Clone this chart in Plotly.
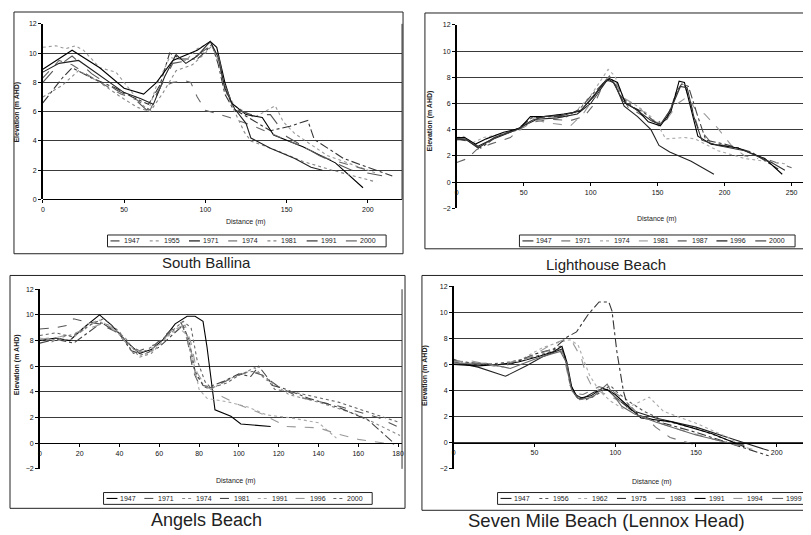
import plotly.graph_objects as go

W, H = 811, 535
OFF = 8  # default page margin of the html body
FW, FH = W - OFF, H - OFF
FONT = "Liberation Sans, Arial, sans-serif"

# ---------------- DATA ----------------
# South Ballina
sb_years = ["1947", "1955", "1971", "1974", "1981", "1991", "2000"]
sb_dist = [
    [0, 12, 18, 30, 45, 55, 65, 72, 78, 85, 95, 100, 104, 108, 112, 117, 128, 140, 152, 163, 167, 185, 215],
    [0, 8, 14, 20, 25, 35, 45, 55, 60, 65, 70, 78, 88, 95, 103, 108, 112, 118, 130, 143, 148, 155, 175, 205],
    [0, 18, 35, 50, 62, 70, 80, 95, 103, 107, 112, 116, 125, 135, 142, 160, 180, 197],
    [0, 10, 18, 32, 48, 58, 66, 72, 80, 88, 91, 95, 100, 115, 130, 145, 160, 175, 200],
    [0, 12, 22, 35, 48, 58, 66, 74, 82, 92, 100, 104, 108, 112, 118, 124, 128, 145, 160, 178, 205],
    [0, 10, 22, 35, 50, 60, 68, 75, 82, 88, 95, 103, 108, 112, 118, 125, 128, 140, 155, 165, 172],
    [0, 8, 18, 30, 45, 57, 64, 72, 80, 90, 97, 103, 108, 112, 118, 128, 140, 150, 170, 190, 210],
]
sb_elev = [
    [6.6, 8.3, 9.0, 8.3, 7.6, 7.0, 6.5, 7.8, 10.0, 9.6, 9.6, 10.1, 10.6, 9.2, 7.2, 6.2, 5.5, 4.7, 5.0, 5.4, 4.1, 2.8, 1.6],
    [10.4, 10.5, 10.3, 10.5, 10.2, 9.0, 8.7, 7.3, 6.6, 6.1, 7.8, 9.7, 9.5, 10.3, 10.7, 9.5, 7.5, 6.4, 5.6, 6.4, 5.3, 4.5, 3.0, 1.8],
    [8.9, 10.2, 9.0, 7.6, 7.2, 8.0, 9.5, 10.2, 10.8, 10.4, 8.0, 6.6, 5.8, 5.6, 4.4, 3.6, 2.5, 0.8],
    [8.3, 9.5, 9.2, 8.2, 7.2, 6.8, 6.1, 7.6, 8.0, 8.1, 8.0, 7.0, 6.1, 5.6, 5.0, 4.3, 3.6, 2.8, 2.0],
    [7.0, 7.8, 8.8, 8.0, 7.0, 6.3, 6.0, 7.3, 8.8, 9.2, 10.0, 10.5, 9.5, 7.5, 6.0, 4.6, 4.0, 3.3, 2.6, 2.0, 1.2],
    [8.7, 9.3, 9.5, 8.5, 7.3, 6.9, 6.5, 8.4, 9.9, 9.3, 9.8, 10.8, 9.7, 7.6, 6.2, 5.2, 4.2, 3.5, 2.8, 2.2, 2.0],
    [8.0, 9.0, 9.8, 8.6, 7.5, 6.8, 6.1, 7.6, 9.3, 9.5, 10.0, 10.5, 9.8, 7.8, 6.2, 5.8, 5.8, 4.3, 3.0, 2.0, 1.6],
]

# Lighthouse Beach
lb_years = ["1947", "1971", "1974", "1981", "1987", "1996", "2000"]
lb_dist = [
    [0, 6, 15, 25, 40, 50, 60, 75, 90, 100, 108, 113, 118, 125, 135, 145, 151, 159, 175, 192],
    [0, 8, 15, 25, 40, 48, 58, 70, 85, 95, 103, 110, 114, 120, 128, 140, 150, 158, 165, 170, 174, 180, 190, 210, 230, 250],
    [0, 5, 12, 20, 35, 48, 58, 72, 88, 100, 108, 113, 118, 125, 135, 145, 150, 156, 170, 178, 195, 215, 245],
    [0, 8, 18, 30, 45, 55, 70, 85, 95, 105, 112, 117, 125, 135, 147, 155, 165, 172, 178, 185, 195, 205, 215, 225],
    [0, 10, 18, 30, 46, 56, 68, 82, 92, 103, 111, 116, 123, 132, 140, 150, 157, 164, 168, 173, 180, 186, 200, 220, 240],
    [0, 6, 14, 22, 35, 47, 55, 65, 80, 92, 102, 110, 114, 120, 126, 135, 143, 152, 160, 166, 170, 175, 180, 190, 210, 230, 243],
    [0, 8, 16, 28, 45, 56, 65, 80, 93, 104, 112, 117, 124, 133, 145, 152, 160, 167, 172, 177, 183, 195, 215, 235, 245],
]
lb_elev = [
    [3.3, 3.3, 2.7, 3.2, 3.8, 4.3, 4.8, 4.9, 5.2, 6.0, 7.2, 7.9, 7.5, 5.8, 5.0, 4.0, 2.8, 2.3, 1.6, 0.6],
    [1.5, 1.8, 2.5, 2.9, 3.4, 4.1, 4.6, 4.8, 4.7, 5.0, 6.0, 7.6, 8.1, 7.3, 5.7, 5.0, 4.5, 5.2, 7.0, 7.4, 6.2, 4.2, 3.0, 2.6, 1.8, 1.1],
    [3.4, 3.5, 3.0, 3.4, 3.7, 4.0, 4.9, 5.1, 5.3, 6.6, 7.8, 8.6, 8.1, 6.3, 5.8, 5.0, 4.4, 3.3, 3.4, 3.3, 2.4, 1.8, 1.4],
    [3.2, 3.3, 2.6, 3.5, 4.0, 4.8, 4.5, 4.3, 5.3, 6.8, 7.9, 8.0, 6.4, 5.8, 4.6, 4.5, 6.0, 6.5, 5.6, 5.2, 4.1, 2.8, 2.0, 1.8],
    [3.3, 3.1, 2.6, 3.5, 4.1, 4.9, 5.0, 5.0, 5.6, 6.9, 7.7, 7.8, 6.5, 5.7, 5.3, 4.4, 4.8, 6.9, 7.5, 7.3, 5.0, 3.2, 2.9, 2.3, 1.0],
    [3.4, 3.4, 2.9, 3.3, 3.8, 4.1, 5.0, 5.0, 5.2, 5.4, 6.5, 7.6, 7.9, 7.6, 6.0, 5.5, 4.6, 4.3, 5.4, 7.7, 7.6, 5.5, 3.5, 2.9, 2.6, 1.8, 0.6],
    [3.3, 3.2, 2.6, 3.4, 4.0, 4.7, 5.0, 5.1, 5.5, 6.8, 7.8, 7.6, 6.2, 5.6, 4.7, 4.4, 5.6, 7.3, 7.2, 5.0, 3.2, 2.8, 2.4, 1.5, 0.9],
]

# Angels Beach
ab_years = ["1947", "1971", "1974", "1981", "1991", "1996", "2000"]
ab_dist = [
    [0, 8, 15, 22, 30, 36, 43, 50, 56, 62, 68, 74, 78, 82, 84, 86, 88, 96, 101, 116],
    [0, 8, 14, 17, 22, 30, 38, 45, 50, 58, 65, 71, 74, 77, 80, 84, 88, 98, 106, 112, 120, 130, 150, 170, 181],
    [0, 6, 12, 20, 28, 35, 43, 50, 56, 62, 68, 72, 75, 78, 82, 86, 95, 103, 108, 113, 118, 125, 140, 160, 181],
    [0, 8, 17, 24, 31, 40, 46, 52, 60, 67, 72, 75, 78, 82, 85, 92, 100, 106, 110, 114, 117, 122, 135, 150, 165, 178],
    [0, 8, 16, 24, 30, 38, 44, 51, 58, 64, 70, 74, 77, 80, 84, 95, 105, 114, 125, 140, 149],
    [0, 10, 18, 26, 33, 40, 47, 53, 60, 67, 73, 76, 79, 83, 87, 92, 100, 110, 124, 140, 150, 160, 178],
    [0, 8, 16, 25, 32, 40, 47, 53, 60, 66, 72, 76, 79, 83, 86, 94, 102, 108, 114, 118, 130, 150, 170, 181],
]
ab_elev = [
    [8.0, 8.2, 8.0, 9.0, 10.0, 9.2, 8.0, 7.0, 7.3, 8.1, 9.3, 9.9, 9.9, 9.5, 7.5, 4.8, 2.6, 2.1, 1.5, 1.3],
    [8.9, 9.0, 9.2, 9.7, 9.5, 9.3, 8.7, 7.6, 7.2, 7.7, 8.7, 9.4, 8.2, 5.6, 4.6, 4.3, 4.4, 5.2, 5.6, 5.3, 4.4, 3.6, 2.9, 2.0, 1.2],
    [8.1, 7.9, 8.3, 8.6, 9.5, 9.2, 8.2, 6.7, 7.0, 8.0, 8.9, 9.1, 7.5, 5.4, 4.6, 4.2, 5.0, 5.5, 5.9, 5.0, 4.6, 3.8, 3.2, 2.2, 0.6],
    [7.8, 8.1, 7.8, 8.6, 9.4, 8.5, 7.2, 6.9, 7.5, 8.5, 9.2, 8.0, 5.6, 4.5, 4.4, 4.8, 5.4, 5.2, 6.0, 5.2, 4.5, 4.3, 3.5, 2.8, 1.8, 0.0],
    [8.2, 8.0, 8.1, 9.3, 9.6, 8.8, 7.8, 6.8, 7.3, 8.3, 9.0, 8.4, 6.5, 4.2, 3.5, 3.2, 2.8, 2.2, 2.0, 1.6, 0.4],
    [8.1, 8.3, 8.6, 9.0, 9.4, 8.4, 7.3, 7.1, 7.7, 8.9, 9.2, 7.8, 5.5, 4.5, 4.1, 3.6, 3.0, 2.4, 1.3, 1.2, 0.7, 0.3, -0.1],
    [8.4, 8.6, 8.3, 9.2, 9.7, 8.7, 7.0, 7.2, 7.9, 8.7, 9.5, 9.0, 6.5, 4.8, 4.3, 4.7, 5.5, 5.6, 5.1, 4.2, 3.9, 3.2, 2.2, 1.6],
]

# Seven Mile Beach (Lennox Head)
sm_years = ["1947", "1956", "1962", "1975", "1983", "1991", "1994", "1999"]
sm_dist = [
    [0, 15, 32, 45, 55, 63, 67, 70, 72, 75, 80, 87, 95, 100, 110, 125, 150, 175, 195],
    [0, 10, 20, 35, 50, 60, 66, 69, 72, 76, 82, 90, 97, 100, 108, 118, 130, 150, 170, 180],
    [0, 15, 30, 42, 55, 65, 72, 77, 80, 84, 90, 97, 105, 113, 121, 130, 150, 170, 178],
    [0, 20, 35, 50, 62, 70, 76, 83, 90, 96, 98, 101, 105, 107, 115, 130, 150, 170, 195],
    [0, 12, 25, 40, 55, 64, 68, 71, 74, 80, 90, 98, 106, 112, 120, 125, 134, 148],
    [0, 15, 28, 40, 52, 62, 67, 70, 73, 77, 85, 92, 96, 100, 108, 116, 135, 160, 180],
    [0, 10, 25, 45, 60, 68, 74, 79, 82, 86, 96, 108, 116, 140, 160, 185],
    [0, 20, 35, 50, 60, 66, 70, 73, 78, 86, 95, 98, 104, 112, 125, 150, 170, 180],
]
sm_elev = [
    [6.2, 5.8, 5.1, 5.9, 6.6, 7.0, 7.2, 6.0, 4.6, 3.7, 3.4, 3.9, 4.1, 3.5, 2.5, 1.9, 1.2, 0.2, -0.6],
    [6.4, 6.0, 6.0, 6.2, 6.6, 7.0, 7.4, 6.6, 4.4, 3.5, 3.3, 3.8, 4.4, 4.0, 3.2, 2.4, 1.7, 1.1, 0.2, -0.2],
    [6.1, 6.1, 5.8, 6.4, 7.3, 7.7, 7.9, 7.5, 6.5, 5.2, 4.0, 3.2, 2.6, 3.0, 3.5, 2.4, 1.5, 0.4, -0.2],
    [6.3, 6.0, 6.0, 6.8, 7.2, 8.1, 8.5, 9.8, 10.8, 10.8, 10.1, 7.0, 4.0, 3.1, 2.1, 1.5, 0.8, 0.0, -1.0],
    [6.3, 6.1, 5.9, 6.3, 6.9, 7.3, 6.8, 5.0, 3.8, 3.7, 4.3, 4.0, 3.3, 2.2, 1.8, 1.2, 0.4, -0.1],
    [6.0, 5.9, 6.0, 6.2, 6.6, 7.0, 7.4, 6.2, 4.3, 3.4, 3.6, 4.2, 4.0, 3.7, 2.8, 1.9, 1.6, 0.7, -0.3],
    [6.2, 6.3, 5.9, 6.4, 7.5, 7.9, 7.6, 6.5, 5.2, 4.2, 3.6, 2.9, 2.0, 1.0, 0.3, -0.5],
    [6.1, 6.1, 5.7, 6.4, 6.8, 7.0, 6.1, 4.0, 3.3, 3.5, 4.5, 3.8, 2.8, 2.2, 1.6, 0.6, 0.0, -0.2],
]

# ---------------- STYLES / LAYOUT ----------------
sb_styles = [("#333333", "dashdot"), ("#9a9a9a", "dot"), ("#000000", "solid"), ("#666666", "dash"),
             ("#888888", "dot"), ("#222222", "solid"), ("#555555", "longdash")]
lb_styles = [("#222222", "solid"), ("#666666", "dash"), ("#aaaaaa", "dot"), ("#999999", "dash"),
             ("#444444", "dashdot"), ("#000000", "solid"), ("#333333", "solid")]
ab_styles = [("#000000", "solid"), ("#555555", "dash"), ("#888888", "dot"), ("#444444", "dashdot"),
             ("#aaaaaa", "dot"), ("#999999", "dash"), ("#666666", "dot")]
sm_styles = [("#222222", "solid"), ("#555555", "dot"), ("#aaaaaa", "dot"), ("#333333", "dashdot"),
             ("#777777", "dash"), ("#000000", "solid"), ("#999999", "dash"), ("#666666", "solid")]


def px(x):
    return min(max((x - OFF) / FW, 0.0), 1.0)


def py(y):
    return min(max(1 - (y - OFF) / FH, 0.0), 1.0)


panels = [
    dict(dist=sb_dist, elev=sb_elev, years=sb_years, styles=sb_styles,
         xdom=(41, 402), ypx=(198, 20), xr=[0, 221], yr=[0, 12], dtick=50,
         box=(12, 5, 403, 253), leg=(106, 386, 240), title="South Ballina", tpos=(205, 262), tsize=15,
         xt=(245, 221), yt=(15, 109), rborder=True),
    dict(dist=lb_dist, elev=lb_elev, years=lb_years, styles=lb_styles,
         xdom=(457, 811), ypx=(207, 21), xr=[0, 263], yr=[-2, 12], dtick=50,
         box=(425, 9, 812, 248), leg=(520, 797, 240), title="Lighthouse Beach", tpos=(607, 264), tsize=15,
         xt=(658, 218), yt=(430, 118), rborder=False),
    dict(dist=ab_dist, elev=ab_elev, years=ab_years, styles=ab_styles,
         xdom=(38, 402), ypx=(471, 289), xr=[0, 182], yr=[-2, 12], dtick=20,
         box=(7, 275, 405, 511), leg=(102, 372, 501), title="Angels Beach", tpos=(205, 523), tsize=18,
         xt=(235, 483), yt=(15, 365), rborder=True),
    dict(dist=sm_dist, elev=sm_elev, years=sm_years, styles=sm_styles,
         xdom=(454, 811), ypx=(471, 286), xr=[0, 220], yr=[-2, 12], dtick=50,
         box=(422, 275, 812, 513), leg=(498, 832, 501), title="Seven Mile Beach (Lennox Head)", tpos=(607, 523),
         tsize=18.5, xt=(653, 484), yt=(425, 376), rborder=False),
]

fig = go.Figure()
shapes = []
annotations = []
layout_axes = {}

for k, p in enumerate(panels, start=1):
    xa = "x" if k == 1 else f"x{k}"
    ya = "y" if k == 1 else f"y{k}"
    for xs, ys, name, (col, dash) in zip(p["dist"], p["elev"], p["years"], p["styles"]):
        fig.add_trace(go.Scatter(x=xs, y=ys, mode="lines", name=name, xaxis=xa, yaxis=ya,
                                 showlegend=False,
                                 line=dict(color=col, dash=dash, width=1.1)))
    ybot, ytop = py(p["ypx"][0]), py(p["ypx"][1])
    zero_pos = ybot + (0 - p["yr"][0]) / (p["yr"][1] - p["yr"][0]) * (ytop - ybot)
    xkey = "xaxis" if k == 1 else f"xaxis{k}"
    ykey = "yaxis" if k == 1 else f"yaxis{k}"
    layout_axes[xkey] = dict(domain=[px(p["xdom"][0]), px(p["xdom"][1])], range=p["xr"],
                             anchor="free", position=zero_pos, showline=True, linecolor="#000",
                             linewidth=1, ticks="outside", ticklen=3, tickcolor="#000",
                             tick0=0, dtick=p["dtick"], showgrid=False, zeroline=False,
                             tickfont=dict(size=7, color="#111", family=FONT))
    layout_axes[ykey] = dict(domain=[ybot, ytop], range=p["yr"], anchor=xa,
                             showline=True, linecolor="#000", linewidth=1.5,
                             ticks="outside", ticklen=3, tickcolor="#000",
                             tick0=0, dtick=2, showgrid=True, gridcolor="#3a3a3a", gridwidth=1,
                             zeroline=False, tickfont=dict(size=7, color="#111", family=FONT))
    if p["rborder"]:
        shapes.append(dict(type="line", xref="paper", yref="paper",
                           x0=px(p["xdom"][1]), x1=px(p["xdom"][1]), y0=ybot, y1=ytop,
                           line=dict(color="#333", width=1)))
    bx0, by0, bx1, by1 = p["box"]
    shapes.append(dict(type="rect", xref="paper", yref="paper",
                       x0=px(bx0), x1=px(bx1), y0=py(by1), y1=py(by0),
                       line=dict(color="#222", width=1)))
    lx0, lx1, lyc = p["leg"]
    shapes.append(dict(type="rect", xref="paper", yref="paper",
                       x0=px(lx0), x1=px(lx1), y0=py(lyc + 6), y1=py(lyc - 6),
                       line=dict(color="#222", width=1), fillcolor="white"))
    n = len(p["years"])
    pitch = (lx1 - lx0 - 4) / n if lx1 <= 811 else 39.0
    for i, (name, (col, dash)) in enumerate(zip(p["years"], p["styles"])):
        sx = lx0 + 3 + i * pitch
        shapes.append(dict(type="line", xref="paper", yref="paper",
                           x0=px(sx), x1=px(sx + 11), y0=py(lyc), y1=py(lyc),
                           line=dict(color=col, dash=dash, width=1.1)))
        annotations.append(dict(x=px(sx + 12), y=py(lyc), xref="paper", yref="paper",
                                text=name, showarrow=False, xanchor="left", yanchor="middle",
                                font=dict(size=7, color="#222", family=FONT)))
    annotations.append(dict(x=px(p["tpos"][0]), y=py(p["tpos"][1]), xref="paper", yref="paper",
                            text=p["title"], showarrow=False, xanchor="center", yanchor="middle",
                            font=dict(size=p["tsize"], color="#222", family=FONT)))
    annotations.append(dict(x=px(p["xt"][0]), y=py(p["xt"][1]), xref="paper", yref="paper",
                            text="Distance (m)", showarrow=False, xanchor="center", yanchor="middle",
                            font=dict(size=7, color="#222", family=FONT)))
    annotations.append(dict(x=px(p["yt"][0]), y=py(p["yt"][1]), xref="paper", yref="paper",
                            text="<b>Elevation (m AHD)</b>", textangle=-90, showarrow=False,
                            xanchor="center", yanchor="middle",
                            font=dict(size=7, color="#222", family=FONT)))

fig.update_layout(width=FW, height=FH, margin=dict(l=0, r=0, t=0, b=0),
                  paper_bgcolor="white", plot_bgcolor="white", showlegend=False,
                  shapes=shapes, annotations=annotations, **layout_axes)

fig.write_html("out.html")
